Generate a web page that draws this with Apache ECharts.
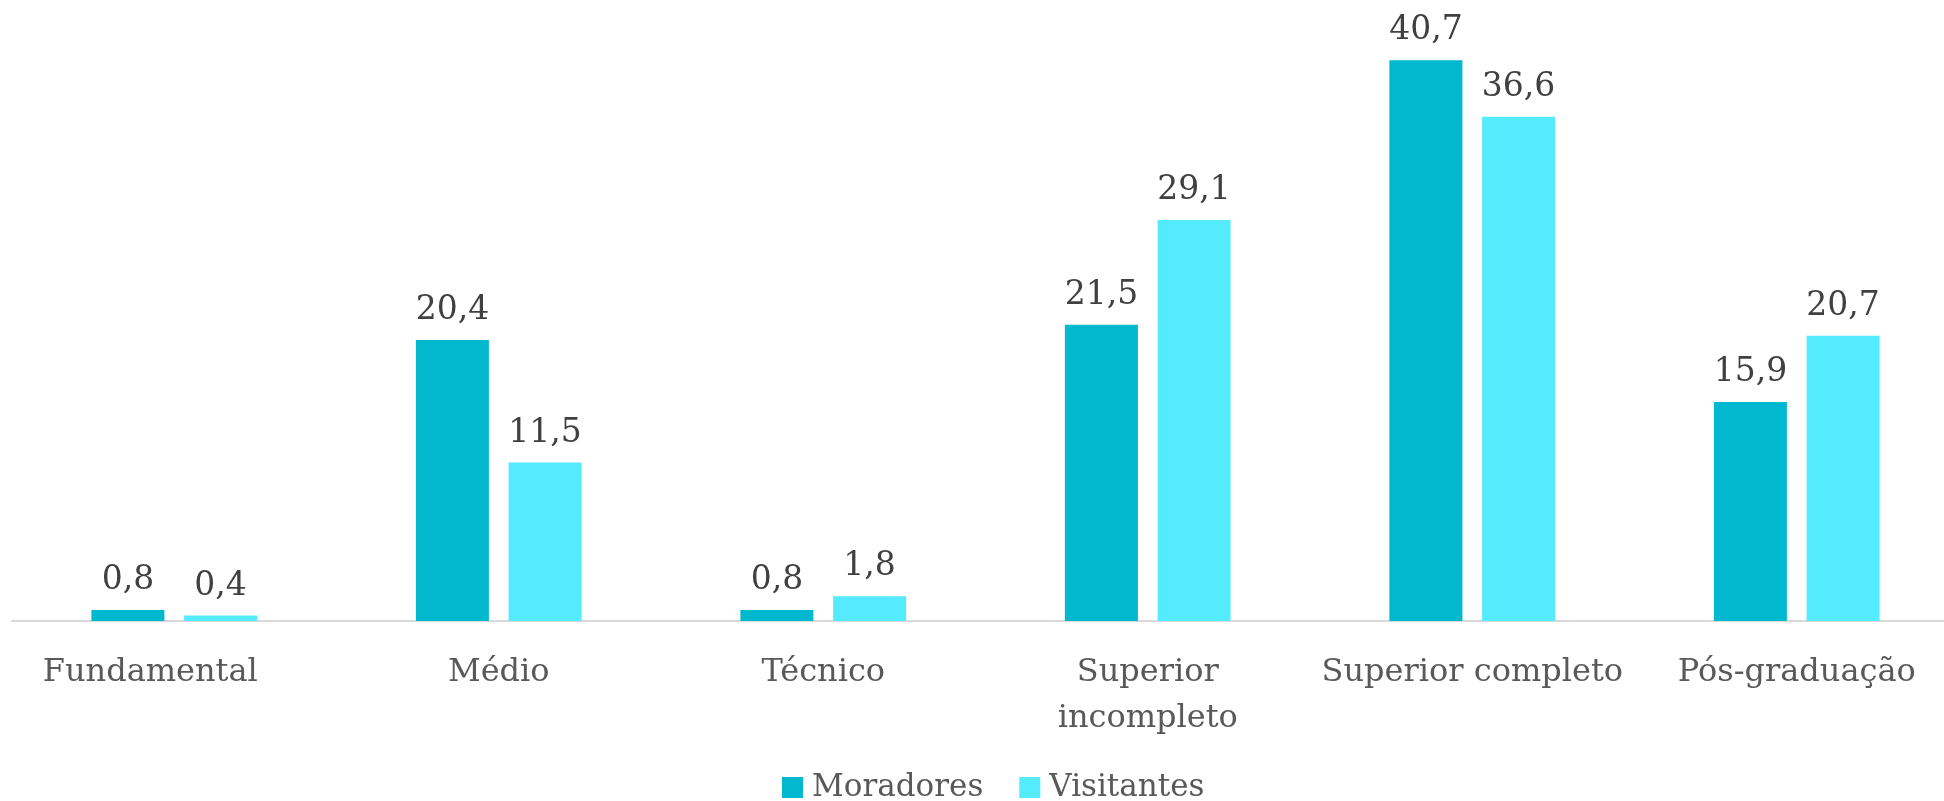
<!DOCTYPE html>
<html>
<head>
<meta charset="utf-8">
<script src="https://cdn.jsdelivr.net/npm/echarts@6/dist/echarts.min.js"></script>
<style>
html,body{margin:0;padding:0;background:#fff;}
#chart{width:1944px;height:801px;}
</style>
</head>
<body>
<div id="chart"></div>
<script>
const categories = ['Fundamental', 'Médio', 'Técnico', 'Superior\nincompleto', 'Superior completo', 'Pós-graduação'];
const moradores = [0.8, 20.4, 0.8, 21.5, 40.7, 15.9];
const visitantes = [0.4, 11.5, 1.8, 29.1, 36.6, 20.7];
const seriesNames = ['Moradores', 'Visitantes'];

const FONT = '"DejaVu Serif", "Liberation Serif", serif';
const chart = echarts.init(document.getElementById('chart'), null, {renderer: 'canvas'});
const fmt = p => String(p.value).replace('.', ',');
const catData = categories.map((c, i) => i === 0 ? {value: c, textStyle: {padding: [0, 48, 0, 0]}} : c);
chart.setOption({
  animation: false,
  backgroundColor: '#ffffff',
  grid: {left: 12, top: 1, width: 1947, bottom: 180, outerBoundsMode: 'none', containLabel: false},
  legend: {
    data: seriesNames,
    top: 767,
    left: 777,
    itemWidth: 21,
    itemHeight: 21,
    itemGap: 36,
    icon: 'rect',
    textStyle: {fontFamily: FONT, fontSize: 31, color: '#595959', padding: [0, 0, 0, 4]}
  },
  xAxis: {
    type: 'category',
    data: catData,
    axisLine: {lineStyle: {color: '#d9d9d9', width: 2}},
    axisTick: {show: false},
    axisLabel: {fontFamily: FONT, fontSize: 32, color: '#595959', margin: 29, lineHeight: 46, interval: 0}
  },
  yAxis: {
    type: 'value',
    min: 0, max: 45,
    show: false,
    splitLine: {show: false}
  },
  series: [
    {
      name: seriesNames[0], type: 'bar', data: moradores,
      barWidth: '22.5%', barGap: '27%',
      itemStyle: {color: '#02B8CE'},
      label: {show: true, position: 'top', distance: 13, formatter: fmt, fontFamily: FONT, fontSize: 33, color: '#404040'}
    },
    {
      name: seriesNames[1], type: 'bar', data: visitantes,
      barWidth: '22.5%', barGap: '27%',
      itemStyle: {color: '#55EBFF'},
      label: {show: true, position: 'top', distance: 13, formatter: fmt, fontFamily: FONT, fontSize: 33, color: '#404040'}
    }
  ]
});
</script>
</body>
</html>
